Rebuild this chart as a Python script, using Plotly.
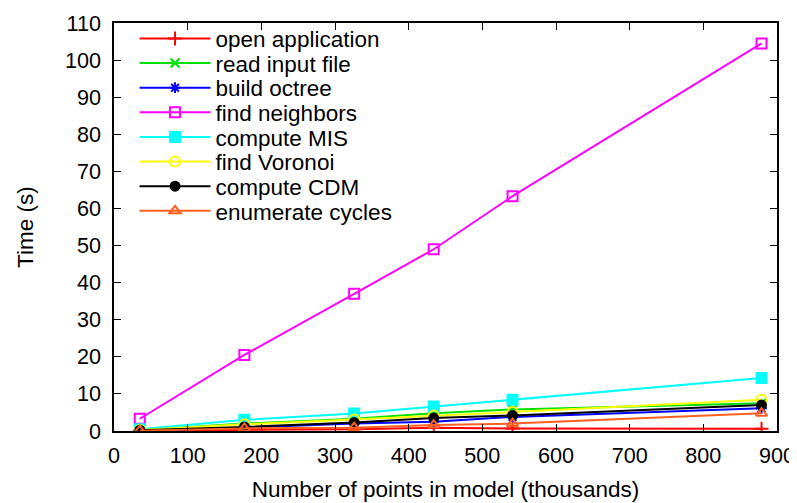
import plotly.graph_objects as go

x_points = [35, 177, 326, 434, 541, 879]

series_names = ["open application", "read input file", "build octree", "find neighbors",
                "compute MIS", "find Voronoi", "compute CDM", "enumerate cycles"]

open_application = [0.1, 0.3, 0.5, 0.9, 0.7, 0.6]
read_input_file = [0.3, 2.0, 3.3, 4.8, 5.8, 7.5]
build_octree = [0.1, 0.9, 2.0, 2.5, 3.8, 6.1]
find_neighbors = [3.3, 20.5, 37.0, 49.0, 63.3, 104.5]
compute_mis = [0.5, 3.0, 4.7, 6.6, 8.4, 14.3]
find_voronoi = [0.3, 1.8, 3.1, 4.2, 5.1, 8.4]
compute_cdm = [0.2, 1.1, 2.3, 3.5, 4.2, 7.0]
enumerate_cycles = [0.1, 0.7, 0.9, 1.6, 2.0, 4.8]

values = [open_application, read_input_file, build_octree, find_neighbors,
          compute_mis, find_voronoi, compute_cdm, enumerate_cycles]
colors = ["#ff0000", "#00e000", "#0000ff", "#ff00ff", "#00ffff", "#ffff00", "#000000", "#ff6020"]
symbols = ["cross-thin", "x-thin", "asterisk", "square-open", "square", "circle-open",
           "circle", "triangle-up-open"]
sizes = [10, 9, 9, 10, 10, 10, 9, 10]

FAMILY = "Liberation Sans, Arial, sans-serif"
FS = 21.6
LFS = 22.5

# The page body has an 8px margin; figure size/margins compensate for it.
W, HT = 789, 495
L, R, T, B = 106, 20, 9, 72
H = HT - T - B
PW = W - L - R

fig = go.Figure()
legend_layouts = {}
for i, (name, ys, c, s, sz) in enumerate(zip(series_names, values, colors, symbols, sizes)):
    lg = "legend" if i == 0 else f"legend{i + 1}"
    fig.add_trace(go.Scatter(
        x=x_points, y=ys, name=name, mode="lines+markers",
        line=dict(color=c, width=2),
        marker=dict(symbol=s, size=sz, color=c, line=dict(color=c, width=2)),
        legend=lg,
    ))
    py = 25 + i * 25.0  # figure-space centre of the legend box
    legend_layouts[lg] = dict(
        x=0.031, y=1 - (py - T) / H, xanchor="left", yanchor="middle",
        bgcolor="rgba(0,0,0,0)", font=dict(family=FAMILY, size=LFS, color="black"),
        itemwidth=71, borderwidth=0,
    )

fig.update_layout(
    width=W, height=HT,
    margin=dict(l=L, r=R, t=T, b=B),
    paper_bgcolor="white", plot_bgcolor="white",
    font=dict(family=FAMILY, size=FS, color="black"),
    showlegend=True,
    xaxis=dict(range=[0, 900], dtick=100, showgrid=False, zeroline=False,
               showline=True, linecolor="black", linewidth=1.5, mirror="allticks",
               ticks="inside", ticklen=7, tickcolor="black", automargin=False,
               tickfont=dict(size=FS), ticklabelstandoff=4, ticklabeloverflow="allow",
               title=dict(text="Number of points in model (thousands)", font=dict(size=LFS))),
    yaxis=dict(range=[0, 110], dtick=10, showgrid=False, zeroline=False,
               showline=True, linecolor="black", linewidth=1.5, mirror="allticks",
               ticks="inside", ticklen=7, tickcolor="black", automargin=False,
               tickfont=dict(size=FS), ticklabelstandoff=7, ticklabeloverflow="allow"),
    annotations=[dict(text="Time (s)", xref="paper", yref="paper",
                      x=(17 - L) / PW, y=0.5, xanchor="center", yanchor="middle",
                      textangle=-90, showarrow=False,
                      font=dict(family=FAMILY, size=LFS, color="black"))],
    **legend_layouts,
)

fig.write_html("out.html")
